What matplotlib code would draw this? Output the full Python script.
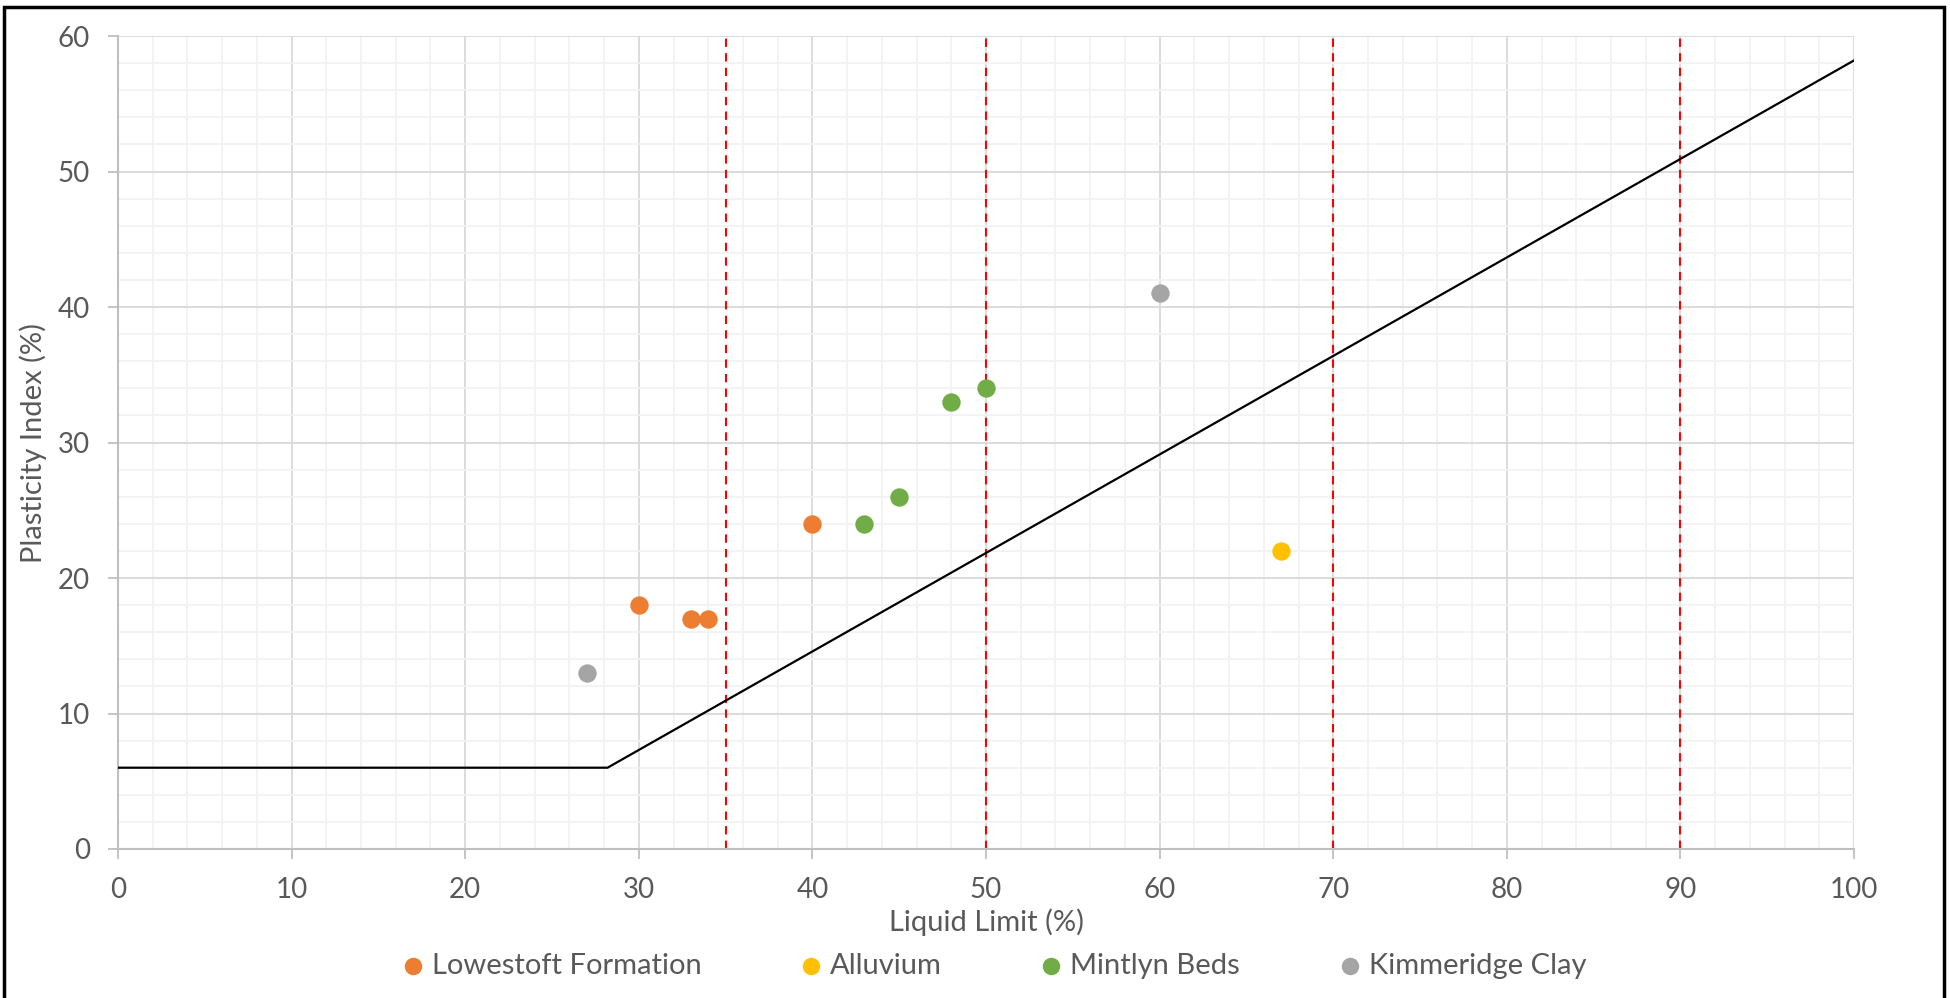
import matplotlib
matplotlib.use("Agg")
import matplotlib.pyplot as plt
from matplotlib.patches import Rectangle
from matplotlib.ticker import MultipleLocator

plt.rcParams["font.family"] = ["Lato", "DejaVu Sans"]

# Plasticity chart data
lowestoft_ll = [30, 33, 34, 40]
lowestoft_pi = [18, 17, 17, 24]
alluvium_ll = [67]
alluvium_pi = [22]
mintlyn_ll = [43, 45, 48, 50]
mintlyn_pi = [24, 26, 33, 34]
kimmeridge_ll = [27, 60]
kimmeridge_pi = [13, 41]

# A-line
aline_ll = [0, 28.2, 100]
aline_pi = [6, 6, 58.2]

# plasticity boundaries (liquid limit)
boundaries = [35, 50, 70, 90]

series = [
    ("Lowestoft Formation", lowestoft_ll, lowestoft_pi, "#ED7D31"),
    ("Alluvium", alluvium_ll, alluvium_pi, "#FFC000"),
    ("Mintlyn Beds", mintlyn_ll, mintlyn_pi, "#70AD47"),
    ("Kimmeridge Clay", kimmeridge_ll, kimmeridge_pi, "#A5A5A5"),
]

text_col = "#595959"

fig = plt.figure(figsize=(19.5, 9.98), dpi=100)
ax = fig.add_axes([0.0605, 0.1493, 0.8903, 0.8146])

ax.set_xlim(0, 100)
ax.set_ylim(0, 60)
ax.xaxis.set_major_locator(MultipleLocator(10))
ax.yaxis.set_major_locator(MultipleLocator(10))
ax.xaxis.set_minor_locator(MultipleLocator(2))
ax.yaxis.set_minor_locator(MultipleLocator(2))
ax.grid(which="minor", color="#f2f2f2", linewidth=1.3, zorder=0)
ax.grid(which="major", color="#d9d9d9", linewidth=1.3, zorder=0)
ax.set_axisbelow(True)

for s in ["top", "right"]:
    ax.spines[s].set_visible(False)
for s in ["left", "bottom"]:
    ax.spines[s].set_color("#bfbfbf")
    ax.spines[s].set_linewidth(1.5)

ax.tick_params(which="major", length=7, width=1.3, color="#bfbfbf",
               labelsize=20, labelcolor=text_col, pad=13)
ax.tick_params(which="minor", length=0)

for b in boundaries:
    ax.vlines(b, 0, 60, colors="red", linestyles=(0, (4, 3)), linewidth=1.5, zorder=2)

ax.plot(aline_ll, aline_pi, color="black", linewidth=1.6, zorder=3)

for name, xs, ys, col in series:
    ax.scatter(xs, ys, s=175, color=col, label=name, zorder=4, linewidths=0)

ax.set_xlabel("Liquid Limit (%)", fontsize=21, color=text_col, labelpad=4)
ax.set_ylabel("Plasticity Index (%)", fontsize=21, color=text_col, labelpad=8)

leg = fig.legend(loc="center", bbox_to_anchor=(0.51, 0.032), ncol=4, frameon=False,
                 fontsize=21, markerscale=0.95, handlelength=0.7, handletextpad=0.3,
                 columnspacing=3.4)
for t in leg.get_texts():
    t.set_color(text_col)

fig.patches.append(Rectangle((4 / 1950, -0.02), 1940 / 1950, 1.02 - 7 / 998,
                             transform=fig.transFigure, fill=False,
                             edgecolor="black", linewidth=2.5))

fig.savefig("out.png", dpi=100)
